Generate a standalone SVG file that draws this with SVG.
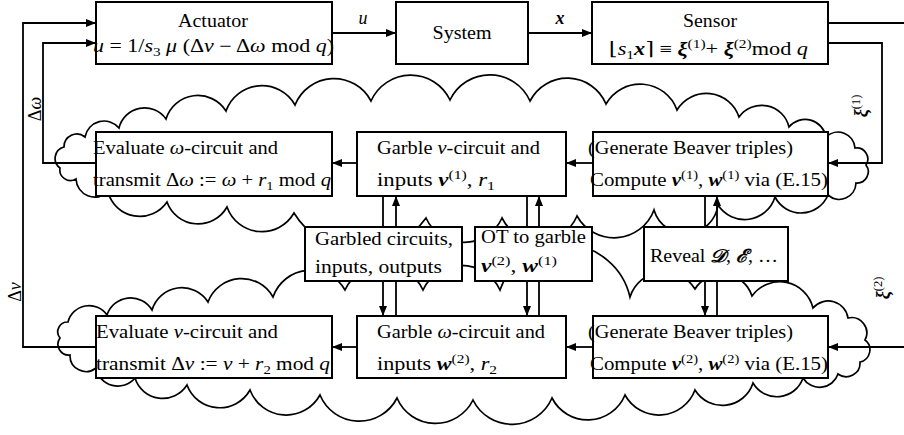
<svg xmlns="http://www.w3.org/2000/svg" width="904" height="435" viewBox="0 0 904 435">
<style>
.t{font-family:"Liberation Serif","DejaVu Serif",serif;font-size:18px;fill:#000}
.i{font-style:italic}
.b{font-style:italic;font-weight:bold}
.s{font-size:12.5px;font-style:normal;font-weight:normal}
.box{fill:#fff;stroke:#000;stroke-width:2}
.cl{fill:none;stroke:#000;stroke-width:1.7}
.ln{fill:none;stroke:#000;stroke-width:1.8}
.ar{marker-end:url(#ah)}
</style>
<defs>
<marker id="ah" viewBox="0 0 10 8" refX="10" refY="4" markerWidth="10" markerHeight="8" markerUnits="userSpaceOnUse" orient="auto"><path d="M0,0 L10,4 L0,8 z" fill="#000"/></marker>
</defs>
<g id="cloud1">
<path class="cl" d="M64,147 A12.8,12.8 0 0 1 85,137 A19.4,19.4 0 0 1 119,128 A26.3,26.3 0 0 1 166,119 A33.3,33.3 0 0 1 226,111 A38.1,38.1 0 0 1 295,105 A41.9,41.9 0 0 1 371,101 A43.5,43.5 0 0 1 450,100 A44,44 0 0 1 530,101 A41.9,41.9 0 0 1 606,104 A39.2,39.2 0 0 1 677,110 A34.3,34.3 0 0 1 739,117 A28,28 0 0 1 789,127 A21.1,21.1 0 0 1 826,137 A17.1,17.1 0 0 1 855,148 A11.1,11.1 0 0 1 866,165 A11.3,11.3 0 0 1 856,183 A16.8,16.8 0 0 1 828,195 A29.2,29.2 0 0 1 775,197 A31.7,31.7 0 0 1 718,205 A32.8,32.8 0 0 1 654,210 A42.5,42.5 0 0 1 577,216 A41.3,41.3 0 0 1 502,218 A41.8,41.8 0 0 1 426,218 A79.3,79.3 0 0 1 294,213 A37,37 0 0 1 227,207 A33.1,33.1 0 0 1 167,202 A32.9,32.9 0 0 1 108,192 A19,19 0 0 1 76,179 A10.7,10.7 0 0 1 60,168 A11.8,11.8 0 0 1 64,147 Z"/>
</g>
<g id="cloud2">
<path class="cl" d="M68,322 A21.8,21.8 0 0 1 107,315 A24.9,24.9 0 0 1 152,310 A31.1,31.1 0 0 1 208,302 A35.9,35.9 0 0 1 273,297 A39.8,39.8 0 0 1 345,290 A42.9,42.9 0 0 1 423,290 A42.4,42.4 0 0 1 500,290 A67.7,67.7 0 0 1 630,297 A36,36 0 0 1 695,289 A31.6,31.6 0 0 1 752,296 A34.2,34.2 0 0 1 813,308 A20,20 0 0 1 848,318 A15.3,15.3 0 0 1 865,340 A12.4,12.4 0 0 1 860,362 A13.8,13.8 0 0 1 838,374 A19.4,19.4 0 0 1 803,378 A27.6,27.6 0 0 1 753,383 A32.1,32.1 0 0 1 695,390 A38.6,38.6 0 0 1 625,395 A40.2,40.2 0 0 1 552,398 A43.5,43.5 0 0 1 473,400 A41.8,41.8 0 0 1 397,398 A42.4,42.4 0 0 1 320,395 A38.6,38.6 0 0 1 250,390 A34.8,34.8 0 0 1 187,385 A28.9,28.9 0 0 1 135,378 A22.2,22.2 0 0 1 96,368 A16,16 0 0 1 70,355 A10.8,10.8 0 0 1 60,338 A9.8,9.8 0 0 1 68,322 Z"/>
</g>
<g id="connectors">
<path class="ln ar" d="M332,33 H396"/>
<path class="ln ar" d="M528,33 H592"/>
<path class="ln" d="M828,23 H904"/>
<path class="ln ar" d="M828,43 H882 V163 H828"/>
<path class="ln ar" d="M904,347 H828"/>
<path class="ln ar" d="M593,163 H566"/>
<path class="ln ar" d="M357,163 H332"/>
<path class="ln ar" d="M593,347 H566"/>
<path class="ln ar" d="M357,347 H332"/>
<path class="ln ar" d="M96,163 H43 V43 H96"/>
<path class="ln ar" d="M96,347 H23 V23 H96"/>
<path class="ln ar" d="M383,196 V316"/>
<path class="ln ar" d="M396,316 V196"/>
<path class="ln ar" d="M527,196 V316"/>
<path class="ln ar" d="M539,316 V196"/>
<path class="ln ar" d="M705,196 V316"/>
<path class="ln ar" d="M717,316 V196"/>
<text class="t i" x="363" y="24" text-anchor="middle">u</text>
<text class="t b" x="560" y="24" text-anchor="middle">x</text>
<text class="t" transform="translate(41,109) rotate(-90)" text-anchor="middle">Δ<tspan class="i">ω</tspan></text>
<text class="t" transform="translate(21,292) rotate(-90)" text-anchor="middle">Δ<tspan class="i">ν</tspan></text>
<text class="t" transform="translate(867,106) rotate(-90)" text-anchor="middle"><tspan class="b">ξ</tspan><tspan class="s" dy="-7">(1)</tspan></text>
<text class="t" transform="translate(889,288) rotate(-90)" text-anchor="middle"><tspan class="b">ξ</tspan><tspan class="s" dy="-7">(2)</tspan></text>
</g>
<g id="actuator">
<rect class="box" x="96" y="2" width="236" height="62"/>
<text class="t" x="213" y="27" text-anchor="middle" textLength="70" lengthAdjust="spacingAndGlyphs">Actuator</text>
<text class="t" x="93" y="52" textLength="241" lengthAdjust="spacingAndGlyphs"><tspan class="i">u</tspan> = 1/<tspan class="i">s</tspan><tspan class="s" dy="4">3</tspan><tspan dy="-4"> </tspan><tspan class="i">μ</tspan> (Δ<tspan class="i">ν</tspan> − Δ<tspan class="i">ω</tspan>  mod <tspan class="i">q</tspan>)</text>
</g>
<g id="system">
<rect class="box" x="396" y="2" width="132" height="62"/>
<text class="t" x="462" y="39" text-anchor="middle" textLength="59" lengthAdjust="spacingAndGlyphs">System</text>
</g>
<g id="sensor">
<rect class="box" x="592" y="2" width="236" height="62"/>
<text class="t" x="710" y="27" text-anchor="middle" textLength="54" lengthAdjust="spacingAndGlyphs">Sensor</text>
<text class="t" x="609" y="55" textLength="199" lengthAdjust="spacingAndGlyphs">⌊<tspan class="i">s</tspan><tspan class="s" dy="4">1</tspan><tspan class="b" dy="-4">x</tspan>⌉ ≡ <tspan class="b">ξ</tspan><tspan class="s" dy="-7">(1)</tspan><tspan dy="7">+ </tspan><tspan class="b">ξ</tspan><tspan class="s" dy="-7">(2)</tspan><tspan dy="7">mod </tspan><tspan class="i">q</tspan></text>
</g>
<g id="eval-omega">
<rect class="box" x="96" y="132" width="236" height="64"/>
<text class="t" x="93" y="154" textLength="185" lengthAdjust="spacingAndGlyphs">Evaluate <tspan class="i">ω</tspan>-circuit and</text>
<text class="t" x="93" y="186" textLength="238" lengthAdjust="spacingAndGlyphs">transmit Δ<tspan class="i">ω</tspan> := <tspan class="i">ω</tspan> + <tspan class="i">r</tspan><tspan class="s" dy="4">1</tspan><tspan dy="-4"> mod </tspan><tspan class="i">q</tspan></text>
</g>
<g id="garble-nu">
<rect class="box" x="357" y="132" width="209" height="64"/>
<text class="t" x="377" y="154" textLength="163" lengthAdjust="spacingAndGlyphs">Garble <tspan class="i">ν</tspan>-circuit and</text>
<text class="t" x="377" y="186" textLength="118" lengthAdjust="spacingAndGlyphs">inputs <tspan class="b">v</tspan><tspan class="s" dy="-7">(1)</tspan><tspan dy="7">, </tspan><tspan class="i">r</tspan><tspan class="s" dy="4">1</tspan></text>
</g>
<g id="beaver1">
<rect class="box" x="593" y="132" width="235" height="64"/>
<text class="t" x="588" y="154" textLength="205" lengthAdjust="spacingAndGlyphs">(Generate Beaver triples)</text>
<text class="t" x="590" y="186" textLength="238" lengthAdjust="spacingAndGlyphs">Compute <tspan class="b">v</tspan><tspan class="s" dy="-7">(1)</tspan><tspan dy="7">, </tspan><tspan class="b">w</tspan><tspan class="s" dy="-7">(1)</tspan><tspan dy="7"> via (E.15)</tspan></text>
</g>
<g id="eval-nu">
<rect class="box" x="96" y="316" width="236" height="62"/>
<text class="t" x="96" y="338" textLength="182" lengthAdjust="spacingAndGlyphs">Evaluate <tspan class="i">ν</tspan>-circuit and</text>
<text class="t" x="96" y="370" textLength="234" lengthAdjust="spacingAndGlyphs">transmit Δ<tspan class="i">ν</tspan> := <tspan class="i">ν</tspan> + <tspan class="i">r</tspan><tspan class="s" dy="4">2</tspan><tspan dy="-4"> mod </tspan><tspan class="i">q</tspan></text>
</g>
<g id="garble-omega">
<rect class="box" x="357" y="316" width="209" height="62"/>
<text class="t" x="377" y="338" textLength="168" lengthAdjust="spacingAndGlyphs">Garble <tspan class="i">ω</tspan>-circuit and</text>
<text class="t" x="377" y="370" textLength="120" lengthAdjust="spacingAndGlyphs">inputs <tspan class="b">w</tspan><tspan class="s" dy="-7">(2)</tspan><tspan dy="7">, </tspan><tspan class="i">r</tspan><tspan class="s" dy="4">2</tspan></text>
</g>
<g id="beaver2">
<rect class="box" x="593" y="316" width="235" height="62"/>
<text class="t" x="588" y="338" textLength="205" lengthAdjust="spacingAndGlyphs">(Generate Beaver triples)</text>
<text class="t" x="590" y="370" textLength="238" lengthAdjust="spacingAndGlyphs">Compute <tspan class="b">v</tspan><tspan class="s" dy="-7">(2)</tspan><tspan dy="7">, </tspan><tspan class="b">w</tspan><tspan class="s" dy="-7">(2)</tspan><tspan dy="7"> via (E.15)</tspan></text>
</g>
<g id="garbled">
<rect class="box" x="305" y="227" width="157" height="54"/>
<text class="t" x="315" y="245" textLength="138" lengthAdjust="spacingAndGlyphs">Garbled circuits,</text>
<text class="t" x="315" y="273" textLength="127" lengthAdjust="spacingAndGlyphs">inputs, outputs</text>
</g>
<g id="ot">
<rect class="box" x="475" y="227" width="117" height="54"/>
<text class="t" x="481" y="243" textLength="105" lengthAdjust="spacingAndGlyphs">OT to garble</text>
<text class="t" x="481" y="272" textLength="76" lengthAdjust="spacingAndGlyphs"><tspan class="b">v</tspan><tspan class="s" dy="-7">(2)</tspan><tspan dy="7">, </tspan><tspan class="b">w</tspan><tspan class="s" dy="-7">(1)</tspan></text>
</g>
<g id="reveal">
<rect class="box" x="644" y="227" width="144" height="54"/>
<text class="t" x="650" y="262" textLength="128" lengthAdjust="spacingAndGlyphs">Reveal <tspan class="b">𝒟</tspan>, <tspan class="b">ℰ</tspan>, …</text>
</g>
</svg>
